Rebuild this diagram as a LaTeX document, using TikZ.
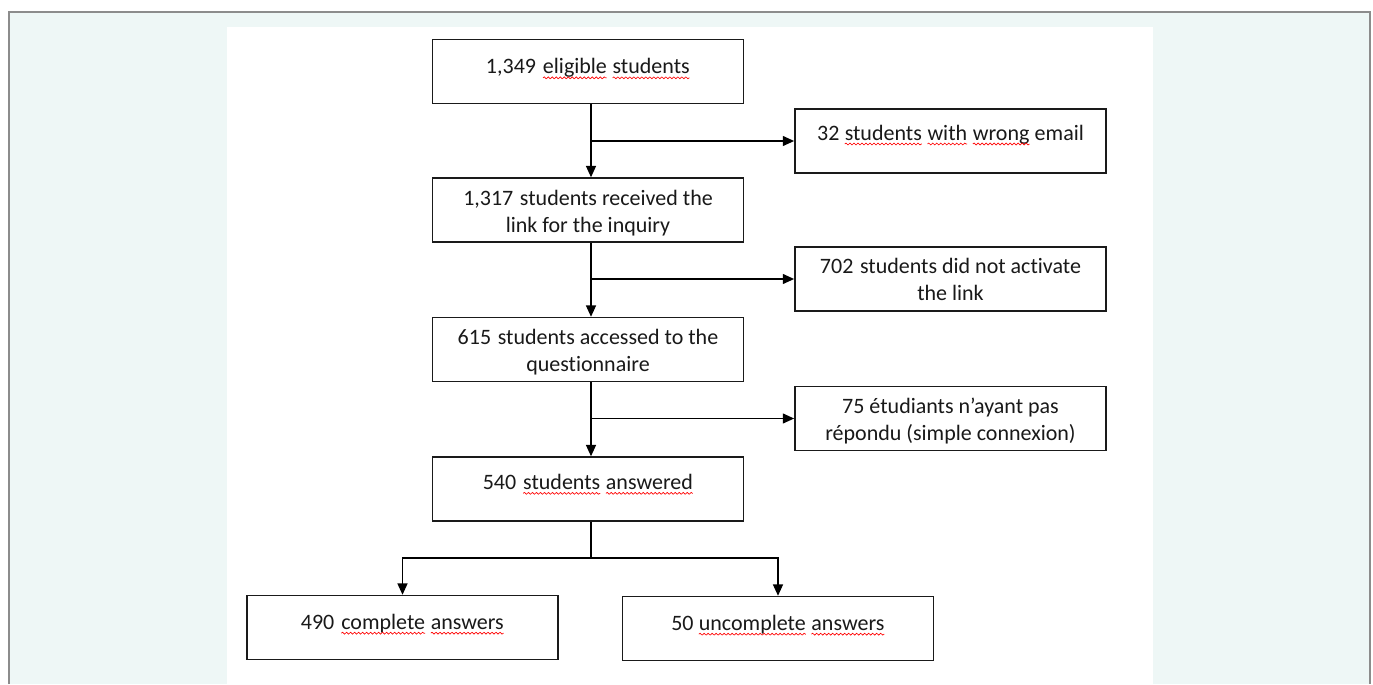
\documentclass[tikz,border=0pt]{standalone}
\usepackage{fontspec}
\setmainfont{Carlito}[Ligatures=NoCommon]
\usetikzlibrary{arrows.meta,decorations.pathmorphing}
\definecolor{bgc}{HTML}{EEF7F6}
\definecolor{framec}{HTML}{8C8C8C}
\definecolor{boxc}{HTML}{1A1A1A}
\newcommand{\xs}{\hspace{0.3em}}
\newcommand{\sqg}[1]{\tikz[baseline=(w.base)]{\node[inner sep=0pt,outer sep=0pt,draw=none](w){#1};\draw[red,line width=0.5pt,decorate,decoration={snake,amplitude=0.7pt,segment length=3pt}]([yshift=-3pt]w.base west)--([yshift=-3pt]w.base east);}}
\begin{document}
\begin{tikzpicture}[x=0.75pt,y=-0.75pt,
  box/.style={draw=boxc,line width=1.1pt,minimum width=233.5pt,minimum height=48pt,inner sep=0pt},
  txt/.style={font=\fontsize{16.5}{20.25}\selectfont,align=center,inner sep=0pt,text=black!90},
  arr/.style={draw=black,line width=1pt,-{Triangle[length=8.5pt,width=7.5pt]}},
  lin/.style={draw=black,line width=1pt}]
\fill[white] (0,0) rectangle (1373,684);
\fill[bgc] (9,12) rectangle (1370,684);
\draw[framec,line width=1.2pt] (9,684) -- (9,12) -- (1370,12) -- (1370,684);
\fill[white] (227,27) rectangle (1153,684);
\useasboundingbox (0,0) rectangle (1373,684);

\node[box] (b1) at (588,71.5) {};
\node[box] (b2) at (950.5,141) {};
\node[box] (b3) at (588,210) {};
\node[box] (b4) at (950.5,279) {};
\node[box] (b5) at (588,349.5) {};
\node[box] (b6) at (950.5,418.5) {};
\node[box] (b7) at (588,489) {};
\node[box] (b8) at (402.5,627.5) {};
\node[box] (b9) at (778,628.5) {};

\node[txt] (t1) at ([yshift=2pt]b1.center) {1,349\xs \sqg{eligible} \sqg{students}};
\node[txt] (t2) at ([yshift=4.5pt]b2.center) {32 \sqg{students} \sqg{with} \sqg{wrong} email};
\node[txt] (t3) at ([yshift=-2pt]b3.center) {1,317\xs students received the\\link for the inquiry};
\node[txt] (t4) at ([yshift=-0.5pt]b4.center) {702\xs students did not activate\\the link};
\node[txt] (t5) at ([yshift=-2pt]b5.center) {615\xs students accessed to the\\questionnaire};
\node[txt] (t6) at ([yshift=-2pt]b6.center) {75 étudiants n’ayant pas\\répondu (simple connexion)};
\node[txt] (t7) at ([yshift=3.5pt]b7.center) {540\xs \sqg{students} \sqg{answered}};
\node[txt] (t8) at ([yshift=2.5pt]b8.center) {490\xs \sqg{complete} \sqg{answers}};
\node[txt] (t9) at ([yshift=2.5pt]b9.center) {50 \sqg{uncomplete} \sqg{answers}};

\coordinate (tr) at (591,0);
\draw[arr] (b1.south -| tr) -- (b3.north -| tr);
\draw[arr] (b2.west -| tr) -- (b2.west);
\draw[arr] (b3.south -| tr) -- (b5.north -| tr);
\draw[arr] (b4.west -| tr) -- (b4.west);
\draw[arr] (b5.south -| tr) -- (b7.north -| tr);
\draw[arr] (b6.west -| tr) -- (b6.west);
\coordinate (sp) at (591,558);
\draw[lin] (b7.south -| tr) -- (sp);
\draw[arr] (sp) -| (b8.north);
\draw[arr] (sp) -| (b9.north);
\end{tikzpicture}
\end{document}
